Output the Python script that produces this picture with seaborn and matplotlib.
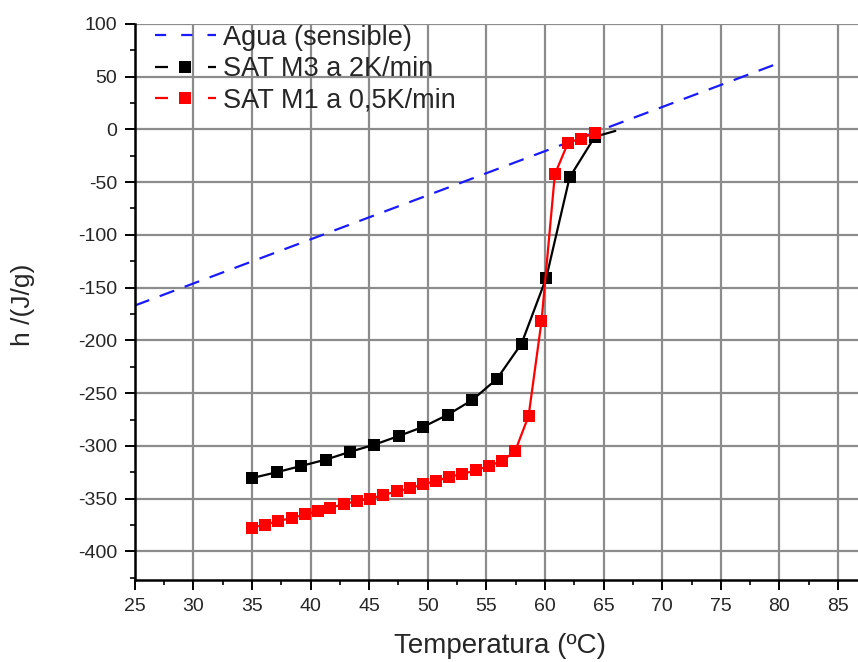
import numpy as np
import pandas as pd
import matplotlib
matplotlib.use("Agg")
import matplotlib.pyplot as plt
from matplotlib.lines import Line2D
from matplotlib.ticker import MultipleLocator
import seaborn as sns

# Sensible heat of water (straight line)
agua_T = [25.0, 80.0]
agua_h = [-167.0, 63.0]

# SAT M3 heated at 2 K/min
m3_T = [35.0, 37.1, 39.2, 41.3, 43.4, 45.4, 47.55, 49.6, 51.7, 53.8, 55.9, 58.0,
        60.1, 62.1, 64.25, 66.0]
m3_h = [-330.5, -325.0, -319.0, -313.0, -305.5, -299.0, -290.5, -282.0, -270.5,
        -256.5, -236.5, -203.0, -141.0, -45.5, -7.0, -1.5]

# SAT M1 heated at 0.5 K/min
m1_T = [35.0, 36.15, 37.26, 38.4, 39.53, 40.6, 41.7, 42.86, 43.97, 45.08, 46.2,
        47.36, 48.46, 49.57, 50.7, 51.8, 52.93, 54.1, 55.2, 56.34, 57.45, 58.6,
        59.7, 60.84, 61.97, 63.05, 64.25]
m1_h = [-377.5, -374.5, -371.2, -368.3, -365.0, -362.0, -358.6, -355.1, -352.2,
        -350.0, -346.6, -343.1, -340.3, -336.5, -333.3, -329.5, -326.6, -323.2,
        -319.0, -314.3, -305.0, -271.6, -182.0, -42.6, -12.6, -8.8, -3.2]

labels = ["Agua (sensible)", "SAT M3 a 2K/min", "SAT M1 a 0,5K/min"]

BLUE = "#1a1aff"
RED = "#ff0000"
LW = 1.6
MS = 8.2

sns.set_style("white")
plt.rcParams["font.family"] = ["Liberation Sans", "DejaVu Sans"]
plt.rcParams["axes.unicode_minus"] = False

fig = plt.figure(figsize=(8.58, 6.62), dpi=100)
ax = fig.add_axes([0.157, 0.124, 0.843, 0.840])

df_agua = pd.DataFrame({"T": agua_T, "h": agua_h})
df_m3 = pd.DataFrame({"T": m3_T, "h": m3_h})
df_m1 = pd.DataFrame({"T": m1_T, "h": m1_h})

sns.lineplot(data=df_agua, x="T", y="h", ax=ax, color=BLUE, lw=LW,
             sort=False, zorder=3)
ax.lines[-1].set_dashes((7, 5))
sns.lineplot(data=df_m3, x="T", y="h", ax=ax, color="black", lw=LW,
             marker="s", markersize=MS, markeredgewidth=0, sort=False,
             markevery=list(range(len(m3_T) - 1)), zorder=4)
sns.lineplot(data=df_m1, x="T", y="h", ax=ax, color=RED, lw=LW,
             marker="s", markersize=MS, markeredgewidth=0, sort=False, zorder=5)

ax.set_xlim(25, 86.7)
ax.set_ylim(-427, 100)
ax.xaxis.set_major_locator(MultipleLocator(5))
ax.xaxis.set_minor_locator(MultipleLocator(2.5))
ax.yaxis.set_major_locator(MultipleLocator(50))
ax.yaxis.set_minor_locator(MultipleLocator(25))

ax.grid(True, which="major", color="#8c8c8c", lw=1.6)
ax.set_axisbelow(True)
for side in ("top", "right"):
    ax.spines[side].set_visible(False)
for side in ("left", "bottom"):
    ax.spines[side].set_color("black")
    ax.spines[side].set_linewidth(1.8)
    ax.spines[side].set_zorder(6)

ax.tick_params(axis="both", which="major", direction="out", length=7.2, width=1.4,
               color="black", labelsize=14, pad=5.5, left=True, bottom=True)
ax.tick_params(axis="both", which="minor", direction="out", length=3.8, width=1.2,
               color="black", left=True, bottom=True)

ax.set_xlabel("Temperatura (ºC)", fontsize=20)
ax.set_ylabel("h /(J/g)", fontsize=19)
ax.xaxis.set_label_coords(0.505, -0.095)
ax.yaxis.set_label_coords(-0.138, 0.495)

handles = [
    Line2D([], [], color=BLUE, lw=LW, dashes=(5, 6.8)),
    Line2D([], [], color="black", lw=LW, dashes=(5.85, 18), marker="s",
           markersize=MS, markeredgewidth=0),
    Line2D([], [], color=RED, lw=LW, dashes=(5.85, 18), marker="s",
           markersize=MS, markeredgewidth=0),
]
ax.legend(handles, labels, loc="upper left", bbox_to_anchor=(0.0277, 0.998),
          frameon=False, fontsize=19.5, handlelength=2.26, handletextpad=0.26,
          labelspacing=0.2, numpoints=1, borderaxespad=0.0, borderpad=0.0)

fig.savefig("out.png", dpi=100)
